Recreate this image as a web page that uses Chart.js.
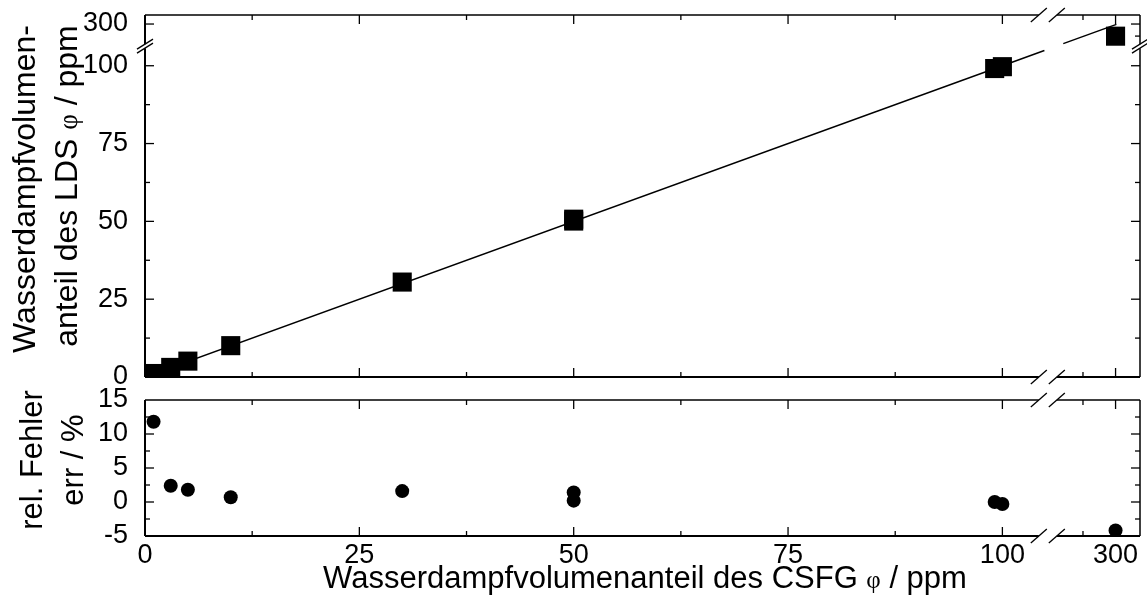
<!DOCTYPE html>
<html>
<head>
<meta charset="utf-8">
<script src="https://cdn.jsdelivr.net/npm/chart.js@4.4.1/dist/chart.umd.min.js"></script>
<style>
  html, body { margin: 0; padding: 0; background: #fff; }
  #wrap { position: relative; width: 1147px; height: 601px; }
  #wrap canvas { position: absolute; left: 0; top: 0; }
</style>
</head>
<body>
<div id="wrap">
  <canvas id="chartLDS" width="1147" height="601"></canvas>
  <canvas id="chartFehler" width="1147" height="601"></canvas>
</div>
<script>
// Messwerte: Wasserdampfvolumenanteil CSFG (Referenz) gegen LDS
const csfg = [1, 3, 5, 10, 30, 50, 50, 99.1, 100, 300];
const lds = [1.12, 3.08, 5.1, 10.07, 30.5, 50.7, 50.1, 99.1, 99.7, 287.4];
const relFehler = [11.8, 2.4, 1.8, 0.7, 1.6, 1.4, 0.2, 0.0, -0.3, -4.2];

// Achsenteilung
const xTicks = [0, 25, 50, 75, 100, 300];
const xMinor = [12.5, 37.5, 62.5, 87.5, 250];
const ldsTicks = [0, 25, 50, 75, 100, 300];
const ldsMinor = [12.5, 37.5, 62.5, 87.5];
const ldsMinorRechts = [287.5];
const fehlerTicks = [-5, 0, 5, 10, 15];
const fehlerMinor = [-2.5, 2.5, 7.5, 12.5];

// Ausgleichsgerade y = x (in Achseneinheiten), unterbrochen am Achsenbruch
const fitSlope = 1;
const fitIntercept = 0;
const fitAbschnitte = [[0, 104.9], [107.1, 113.3]];

// Achsenbruch: bis ~100 linear, dahinter gestauchter Abschnitt um 300
const xBruch = 105.3;
const ldsBruch = 106.3;
function xAchse(v) { return v <= 106 ? v : 113.2 + (v - 300) * 0.076; }
function ldsAchse(v) { return v <= 106 ? v : 113.4 + (v - 300) * 0.31; }

const SANS = '"Liberation Sans", Arial, Helvetica, sans-serif';
const SERIF = '"Liberation Serif", "Times New Roman", serif';
const tickFont = { family: SANS, size: 27 };

function fitPunkte(ab) {
  return ab.map(x => ({ x: x, y: fitSlope * x + fitIntercept }));
}

// Text aus mehreren Schriften (fuer das griechische phi)
function mischText(ctx, teile, x, y, drehung) {
  ctx.save();
  ctx.translate(x, y);
  ctx.rotate(drehung);
  ctx.textAlign = 'left';
  ctx.textBaseline = 'alphabetic';
  ctx.fillStyle = '#000';
  let breite = 0;
  teile.forEach(t => { ctx.font = t[1]; breite += ctx.measureText(t[0]).width; });
  let pos = -breite / 2;
  teile.forEach(t => {
    ctx.font = t[1];
    ctx.fillText(t[0], pos, 0);
    pos += ctx.measureText(t[0]).width;
  });
  ctx.restore();
}

function linie(ctx, x1, y1, x2, y2) {
  ctx.beginPath();
  ctx.moveTo(x1, y1);
  ctx.lineTo(x2, y2);
  ctx.stroke();
}

// Rahmen mit innenliegenden Ticks und Bruchzeichen
function rahmen(chart, cfg) {
  const ctx = chart.ctx;
  const a = chart.chartArea;
  const xs = chart.scales.x, ys = chart.scales.y;
  const xb = xs.getPixelForValue(xBruch);
  const bx1 = xb - 9, bx2 = xb + 9;
  ctx.save();
  ctx.strokeStyle = '#000';
  ctx.lineCap = 'butt';

  // Rahmen
  ctx.lineWidth = 1.5;
  linie(ctx, a.left, a.top, bx1, a.top);
  linie(ctx, bx2, a.top, a.right, a.top);
  ctx.lineWidth = 2;
  linie(ctx, a.left, a.bottom, bx1, a.bottom);
  linie(ctx, bx2, a.bottom, a.right, a.bottom);
  if (cfg.yBruch) {
    const yb = ys.getPixelForValue(ldsBruch);
    linie(ctx, a.left, a.bottom, a.left, yb + 2);
    linie(ctx, a.left, yb - 2, a.left, a.top);
    ctx.lineWidth = 1.5;
    linie(ctx, a.right, a.bottom, a.right, yb + 2);
    linie(ctx, a.right, yb - 2, a.right, a.top);
    ctx.lineWidth = 1.3;
    [yb - 2, yb + 2].forEach(y => {
      linie(ctx, a.left - 8, y + 5, a.left + 8, y - 5);
      linie(ctx, a.right - 8, y + 5, a.right + 8, y - 5);
    });
  } else {
    linie(ctx, a.left, a.bottom, a.left, a.top);
    ctx.lineWidth = 1.5;
    linie(ctx, a.right, a.bottom, a.right, a.top);
  }

  // Bruchzeichen auf der x-Achse (oben und unten)
  ctx.lineWidth = 1.3;
  [a.top, a.bottom].forEach(y => {
    [bx1, bx2].forEach(x => linie(ctx, x - 8, y + 7, x + 8, y - 7));
  });

  // Ticks
  ctx.lineWidth = 1.3;
  const xt = (vals, len) => vals.forEach(v => {
    const px = xs.getPixelForValue(xAchse(v));
    if (Math.abs(px - a.left) < 1) return;
    linie(ctx, px, a.bottom, px, a.bottom - len);
    linie(ctx, px, a.top, px, a.top + len);
  });
  xt(xTicks, 9);
  xt(xMinor, 5);
  const yt = (vals, len, fn, links, rechts) => vals.forEach(v => {
    const py = ys.getPixelForValue(fn(v));
    if (Math.abs(py - a.bottom) < 1 || Math.abs(py - a.top) < 1) return;
    if (links) linie(ctx, a.left, py, a.left + len, py);
    if (rechts) linie(ctx, a.right, py, a.right - len, py);
  });
  yt(cfg.yTicks, 9, cfg.fn, true, true);
  yt(cfg.yMinor, 5, cfg.fn, true, true);
  if (cfg.yMinorRechts) yt(cfg.yMinorRechts, 5, cfg.fn, false, true);
  ctx.restore();
}

// gleiche x-Achse fuer beide Diagramme; oben ohne sichtbare Beschriftung
function xScale(farbe, hoehe) {
  return {
    type: 'linear',
    min: 0,
    max: 116.05,
    grid: { display: false },
    border: { display: false },
    afterFit: s => { s.height = hoehe; s.paddingLeft = 0; s.paddingRight = 0; },
    afterBuildTicks: s => { s.ticks = xTicks.map(v => ({ value: xAchse(v) })); },
    ticks: {
      autoSkip: false,
      maxRotation: 0,
      padding: -5,
      color: farbe,
      font: tickFont,
      callback: (val, i) => String(xTicks[i])
    }
  };
}

function yScale(min, max, werte, fn) {
  return {
    type: 'linear',
    min: min,
    max: max,
    grid: { display: false },
    border: { display: false },
    // Beschriftung darf ueber den Plotbereich hinausragen
    afterFit: s => { s.width = 145; s.paddingTop = 0; s.paddingBottom = 0; },
    afterBuildTicks: s => { s.ticks = werte.map(v => ({ value: fn(v) })); },
    ticks: {
      autoSkip: false,
      padding: 9,
      color: '#000',
      font: tickFont,
      callback: (val, i) => String(werte[i])
    }
  };
}

const basis = {
  responsive: false,
  animation: false,
  devicePixelRatio: 1,
  events: [],
  plugins: { legend: { display: false }, tooltip: { enabled: false } }
};

// oberes Diagramm: LDS gegen CSFG
new Chart(document.getElementById('chartLDS'), {
  type: 'scatter',
  data: {
    datasets: [
      {
        data: csfg.map((x, i) => ({ x: xAchse(x), y: ldsAchse(lds[i]) })),
        pointStyle: 'rect',
        pointRadius: 13.5,
        backgroundColor: '#000',
        borderColor: '#000',
        borderWidth: 0,
        clip: 0,
        order: 0
      },
      {
        data: fitPunkte(fitAbschnitte[0]),
        showLine: true,
        borderColor: '#000',
        borderWidth: 1.5,
        pointRadius: 0,
        order: 1
      },
      {
        data: fitPunkte(fitAbschnitte[1]),
        showLine: true,
        borderColor: '#000',
        borderWidth: 1.5,
        pointRadius: 0,
        order: 1
      }
    ]
  },
  options: Object.assign({}, basis, {
    layout: { autoPadding: false, padding: { top: 15, right: 7, bottom: 224, left: 0 } },
    scales: {
      x: xScale('rgba(0,0,0,0)', 0),
      y: yScale(0, 116.3, ldsTicks, ldsAchse)
    }
  }),
  plugins: [{
    id: 'rahmenLDS',
    afterDraw: chart => {
      rahmen(chart, { yBruch: true, yTicks: ldsTicks, yMinor: ldsMinor, yMinorRechts: ldsMinorRechts, fn: ldsAchse });
      const ctx = chart.ctx;
      const f = '32px ' + SANS;
      const phi = '27px ' + SERIF;
      mischText(ctx, [['Wasserdampfvolumen-', f]], 35, 189, -Math.PI / 2);
      mischText(ctx, [['anteil des LDS ', f], ['\u03c6', phi], [' / ppm', f]], 77, 186, -Math.PI / 2);
    }
  }]
});

// unteres Diagramm: relativer Fehler
new Chart(document.getElementById('chartFehler'), {
  type: 'scatter',
  data: {
    datasets: [{
      data: csfg.map((x, i) => ({ x: xAchse(x), y: relFehler[i] })),
      pointStyle: 'circle',
      pointRadius: 7,
      backgroundColor: '#000',
      borderColor: '#000',
      borderWidth: 0,
      clip: 0
    }]
  },
  options: Object.assign({}, basis, {
    layout: { autoPadding: false, padding: { top: 400, right: 7, bottom: 0, left: 0 } },
    scales: {
      x: xScale('#000', 65),
      y: yScale(-5, 15, fehlerTicks, v => v)
    }
  }),
  plugins: [{
    id: 'rahmenFehler',
    afterDraw: chart => {
      rahmen(chart, { yBruch: false, yTicks: fehlerTicks, yMinor: fehlerMinor, fn: v => v });
      const ctx = chart.ctx;
      const f = '31px ' + SANS;
      mischText(ctx, [['rel. Fehler', f]], 42, 460, -Math.PI / 2);
      mischText(ctx, [['err / %', f]], 83, 460, -Math.PI / 2);
      const fx = '31px ' + SANS;
      const phi = '25px ' + SERIF;
      mischText(ctx, [['Wasserdampfvolumenanteil des CSFG ', fx], ['\u03c6', phi], [' / ppm', fx]], 645, 588, 0);
    }
  }]
});
</script>
</body>
</html>
